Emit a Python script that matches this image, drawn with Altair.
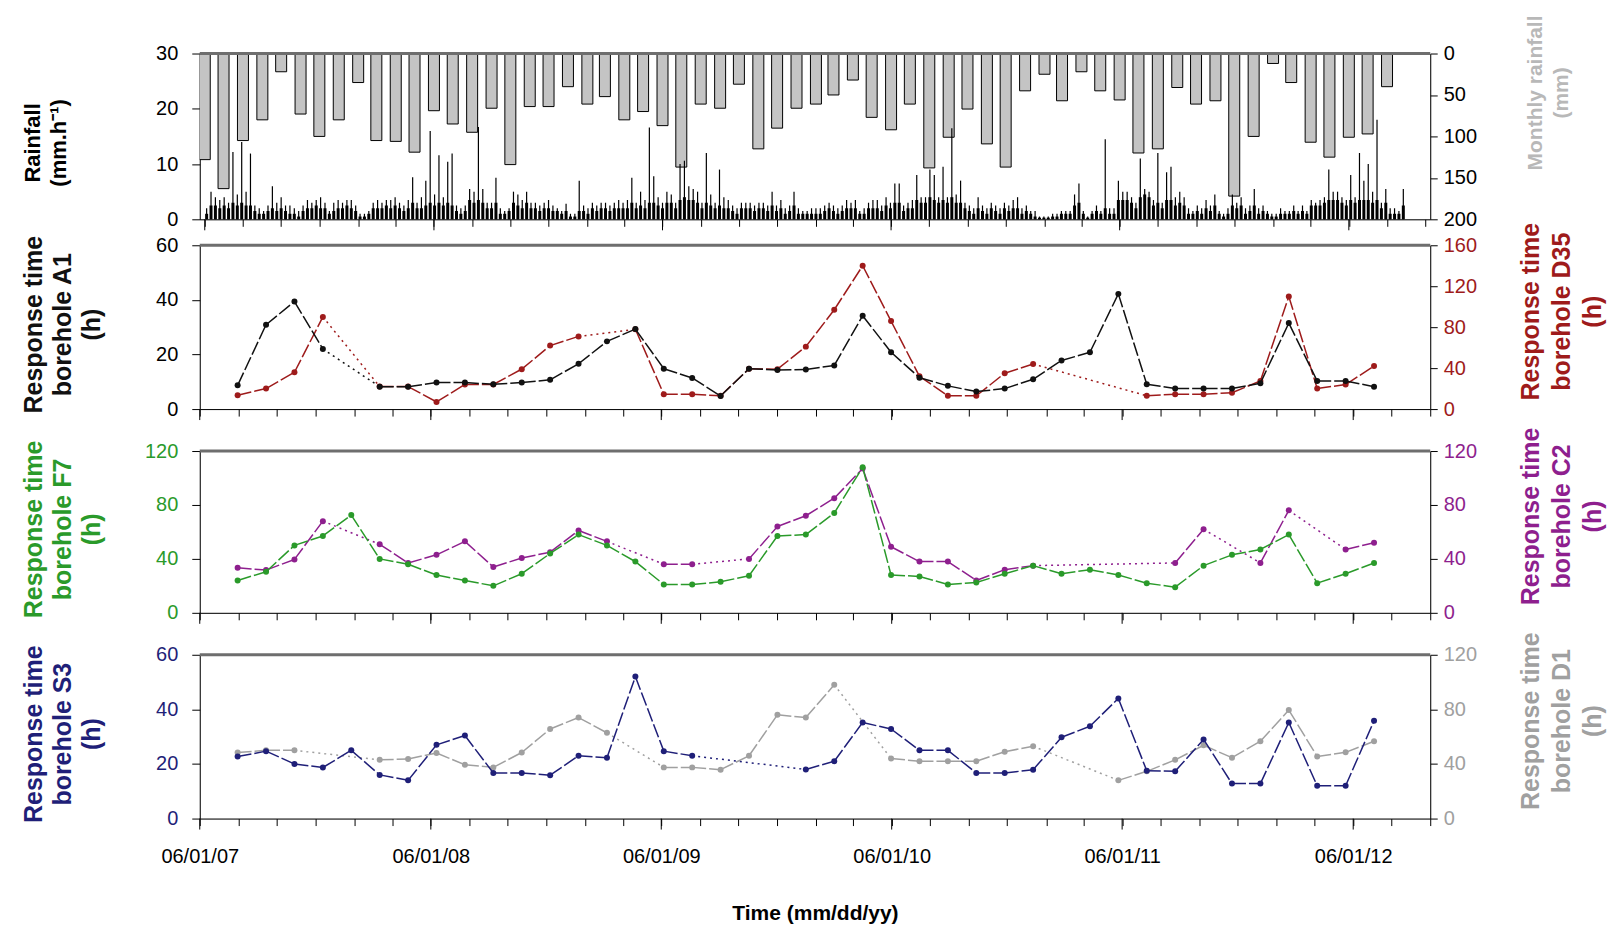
import altair as alt
import numpy as np
import pandas as pd

FONT = "Liberation Sans"
W = 1232
H1, H2, H3, H4 = 166, 164, 162, 164

# ---------------- x axis ticks (every two months; long ticks on 06/01 each year) ----------------
tick_months = ["2007-06", "2007-08", "2007-10", "2007-12", "2008-02", "2008-04", "2008-06",
               "2008-08", "2008-10", "2008-12", "2009-02", "2009-04", "2009-06", "2009-08",
               "2009-10", "2009-12", "2010-02", "2010-04", "2010-06", "2010-08", "2010-10",
               "2010-12", "2011-02", "2011-04", "2011-06", "2011-08", "2011-10", "2011-12",
               "2012-02", "2012-04", "2012-06", "2012-08", "2012-10"]
year_ticks = ["2007-06-01", "2008-06-01", "2009-06-01", "2010-06-01", "2011-06-01", "2012-06-01"]

# ---------------- monthly rainfall (mm), one bar per month from June 2007 ----------------
monthly_rain = [128, 163, 105, 80, 22, 73, 100, 80, 35, 105,
                106, 119, 69, 85, 95, 66, 134, 64, 64, 40,
                61, 52, 80, 70, 87, 137, 61, 66, 37, 115,
                90, 66, 61, 50, 32, 77, 92, 61, 138, 101,
                67, 109, 137, 45, 25, 57, 22, 45, 56, 120,
                115, 41, 61, 57, 172, 100, 12, 35, 107, 125,
                101, 97, 40]

# ---------------- hourly rainfall (mm/h): weekly peak and typical level from June 2007 ----------------
hourly_peak = [2, 5, 4, 3.5, 4, 3, 12.2, 4.5, 14, 5,
               11.9, 2.5, 2, 1.5, 2.5, 6, 3, 4, 2.5, 2.5,
               2, 1.5, 2.5, 3.5, 3, 3.5, 4, 3, 1.5, 3,
               3.5, 3, 3.5, 3.5, 2.5, 1, 1, 1.5, 3, 3.5,
               3, 3.5, 3.5, 4, 3, 2.5, 3.5, 7.6, 3, 4,
               7, 16, 4.5, 11.6, 4, 10.4, 11.9, 2.5, 2, 2.5,
               5.5, 5, 16.7, 5.5, 3, 3, 7.5, 2, 1.5, 2,
               5, 4.5, 3.5, 5, 3, 3, 2.5, 3, 3.5, 2.5,
               2, 1.5, 2.8, 1, 1, 7, 2.5, 2, 3, 2.5,
               3, 3, 2.5, 3, 3.5, 3, 3.5, 7.5, 3, 5,
               3.5, 16.6, 7.8, 4, 3, 5, 4.5, 3, 10, 10.6,
               6, 5.5, 5, 3, 12, 4.5, 3, 9, 4, 3.5,
               2.5, 2, 3, 3, 3, 2.5, 3, 3, 2.5, 5,
               2.5, 3.5, 2, 2.5, 5, 2, 1.5, 1.5, 2, 2,
               2, 2.5, 3, 2.5, 2, 2.5, 3.5, 3, 3.5, 1.5,
               2, 3, 3.5, 3.5, 2.5, 4, 3, 6.5, 6.5, 2.5,
               3, 3.5, 8, 4, 4, 9, 8, 4, 9.5, 4,
               16.5, 4.5, 7, 3, 2.5, 2, 4, 2.5, 2, 3,
               2.5, 2, 3, 2.5, 3.5, 4, 2, 2.5, 1.5, 1.5,
               0.5, 0.5, 0.5, 1, 1, 1.5, 1.5, 1.5, 4.5, 6.5,
               1.5, 0.5, 1.5, 2.5, 1.5, 14.5, 2, 2, 7, 5,
               5, 4, 3, 11, 5.5, 5, 3.5, 12, 3, 8.5,
               9.5, 4, 5, 4, 2, 1.5, 2.5, 2, 3.5, 2.5,
               4.5, 1.5, 1, 2, 4.5, 3, 4, 2, 2.5, 5.5,
               2, 2.5, 1.5, 1, 1, 2, 1.5, 1.5, 2.5, 1.5,
               2.5, 1.5, 3.5, 3, 3.5, 4, 9, 5, 5, 4,
               3.5, 8, 4, 12, 7, 10, 5, 18, 3, 5.5,
               2, 2, 1.5, 5.5, 0]

hourly_base = [1, 2.5, 2.5, 2, 2.5, 2, 3, 2.5, 3, 2.5,
               2.5, 1.5, 1, 1, 1.5, 2, 1.5, 2, 1.5, 1,
               1, 0.5, 1.5, 2, 2, 2.5, 2, 2, 1, 1.5,
               2, 2, 2.5, 2, 1.5, 0.5, 0.5, 1, 2, 2,
               2, 2.5, 2, 2.5, 2, 1.5, 2, 3, 2, 2,
               2.5, 3, 2.5, 3, 2.5, 3, 2.5, 1.5, 1, 1.5,
               3.5, 3, 3.5, 3, 2, 2, 3, 1, 1, 1.5,
               3, 2.5, 2, 3, 2, 2, 1.5, 2, 2, 1.5,
               1.5, 1, 1.5, 0.5, 0.5, 1.5, 1.5, 1, 2, 1.5,
               2, 2, 1.5, 2, 2, 2, 2, 3, 2, 2.5,
               2, 3, 3, 2.5, 2, 3, 3, 2, 3.5, 4,
               3.5, 3.5, 3, 2, 3, 2.5, 2, 2.5, 2, 2,
               1.5, 1, 2, 2, 2, 1.5, 2, 2, 1.5, 2.5,
               1.5, 2, 1, 1.5, 2.5, 1, 1, 1, 1, 1,
               1, 1.5, 2, 1.5, 1, 1.5, 2, 2, 2, 1,
               1, 2, 2, 2, 1.5, 2.5, 2, 3, 3, 1.5,
               2, 2, 3.5, 3, 3, 4, 3.5, 3, 3.5, 3,
               4, 3, 3, 2, 1.5, 1, 2, 1.5, 1, 2,
               1.5, 1, 2, 1.5, 2, 2, 1, 1.5, 1, 0.5,
               0.3, 0.3, 0.3, 0.5, 0.5, 1, 1, 1, 2.5, 3,
               1, 0.3, 1, 1.5, 1, 2, 1, 1, 3.5, 3.5,
               3.5, 3, 2, 4, 4.5, 4, 2.5, 3, 2, 3.5,
               3.5, 2.5, 3, 2.5, 1, 1, 1.5, 1, 2, 1.5,
               2.5, 1, 0.5, 1, 2.5, 2, 2.5, 1, 1.5, 2.5,
               1, 1.5, 1, 0.5, 0.5, 1, 1, 1, 1.5, 1,
               1.5, 1, 2.5, 2.5, 2.5, 3, 3.5, 3.5, 3.5, 3,
               2.5, 3.5, 3, 3.5, 3.5, 3.5, 3, 3.5, 2, 3,
               1, 1, 1, 2.5, 0]

# ---------------- response-time sampling dates ----------------
sample_dates = ["2007-07-31", "2007-09-14", "2007-10-29", "2007-12-13", "2008-01-27",
                "2008-03-12", "2008-04-26", "2008-06-10", "2008-07-25", "2008-09-08",
                "2008-10-23", "2008-12-07", "2009-01-21", "2009-03-07", "2009-04-21",
                "2009-06-05", "2009-07-20", "2009-09-03", "2009-10-18", "2009-12-02",
                "2010-01-16", "2010-03-02", "2010-04-16", "2010-05-31", "2010-07-15",
                "2010-08-29", "2010-10-13", "2010-11-27", "2011-01-11", "2011-02-25",
                "2011-04-11", "2011-05-26", "2011-07-10", "2011-08-24", "2011-10-08",
                "2011-11-22", "2012-01-06", "2012-02-20", "2012-04-05", "2012-05-20",
                "2012-07-04"]

# response times (h); None = no value (gap bridged by a dotted line)
rt_A1 = [8.7, 30.9, 39.4, 22, None, 8.2, 8.2, 9.7, 9.7, 9.1,
         9.7, 10.7, 16.6, 24.8, 29.3, 14.8, 11.4, 4.8, 14.8, 14.3,
         14.5, 16, 34.2, 20.8, 11.5, 8.5, 6.4, 7.5, 10.9, 17.8,
         20.8, 42.2, 9.1, 7.5, 7.5, 7.5, 9.5, 31.5, 10.3, 10.3, 8.2]
rt_D35 = [13.6, 20, 36, 90, None, 22, 22, 7, 24, 24,
          39, 62, 71, None, 78, 14.5, 14.5, 13, 39.4, 39,
          61, 97, 140, 86, 32, 13, 13, 35, 44, None,
          None, None, 13, 14.5, 14.5, 16, 27.5, 110, 20, 24, 42]
rt_F7 = [24, 30.5, 50, 57, 72.5, 40, 36, 28, 24, 20,
         29, 44, 58, 50, 38, 21, 21, 23, 27.5, 57,
         58, 74, 108, 28, 27, 21, 22.5, 29, 35, 29,
         32, 28, 22, 19, 35, 43, 47, 58, 22, 29, 37]
rt_C2 = [33.4, 31.7, 39.6, 68, None, 50.8, 37, 43, 53, 34,
         40.6, 45, 61, 53, None, 36, 36, None, 40, 64,
         72, 85, 107, 49, 38, 38, 24, 32, 35, None,
         None, None, None, 37, 62, None, 37, 76, None, 47, 52]
rt_S3 = [22.7, 24.7, 20, 18.7, 25, 16, 14, 27, 30.4, 16.7,
         16.7, 15.9, 23, 22.3, 52, 24.7, 23, None, None, None,
         18, 21, 35.2, 32.8, 25, 25, 16.7, 16.7, 17.9, 29.8,
         33.8, 44, 17.5, 17.3, 29, 12.8, 12.8, 35.2, 12, 12, 35.8]
rt_D1 = [48.4, 50, 50, None, None, 43, 43.7, 48, 39.4, 37.5,
         48.4, 65.6, 74, 62.8, None, 37.5, 37.5, 35.8, 46, 76,
         74, 98, None, 44, 42, 42, 42, 49, 53, None,
         None, 28, 34.6, 43, 53.7, 44.6, 56.6, 79.5, 45.4, 48.5, 56.6]

# ---------------- colours ----------------
C_BLACK = "#111111"
C_RED = "#9e1b1b"
C_GREEN = "#2a9a2a"
C_PURPLE = "#8e1f8e"
C_NAVY = "#1f1f78"
C_GRAY = "#a0a0a0"
C_LIGHTGRAY = "#b8b8b8"

# ---------------- helpers ----------------
def dt(s):
    return alt.DateTime(year=int(s[:4]), month=int(s[5:7]), date=1, utc=True)

tick_vals = [dt(s) for s in tick_months]
xscale = alt.Scale(type="utc", domain=[dt("2007-06"), dt("2012-10")], nice=False)
year_df = pd.DataFrame({"date": year_ticks})


def xaxis(labels):
    kw = dict(values=tick_vals, grid=False, domainColor="black", tickColor="black",
              tickSize=7, domainWidth=1, tickWidth=1, labelFlush=False, labelOverlap=False)
    if labels:
        return alt.Axis(labels=True,
                        labelExpr="utcmonth(datum.value) == 5 ? utcFormat(datum.value, '%m/%d/%y') : ''",
                        labelFont=FONT, labelFontSize=20, labelColor="black", labelPadding=21,
                        title="Time (mm/dd/yy)", titleFont=FONT, titleFontSize=21,
                        titleFontWeight="bold", titleColor="black",
                        titleX=W / 2, titleY=95, titleBaseline="middle", titleAlign="center",
                        **kw)
    return alt.Axis(labels=False, title=None, **kw)


def yaxis(orient, values, title, title_color, label_color, tx, ty, lh, fs):
    # tx = position of the first title line (further lines stack outward)
    left = orient == "left"
    return alt.Axis(orient=orient, values=values, title=title, grid=False,
                    domainColor="black", tickColor="black", domainWidth=1, tickWidth=1,
                    tickSize=8 if left else 7, labelPadding=14 if left else 6,
                    labelFont=FONT, labelFontSize=20, labelColor=label_color,
                    labelFlush=False, labelOverlap=False,
                    titleFont=FONT, titleFontSize=fs, titleFontWeight="bold",
                    titleColor=title_color, titleAngle=270, titleAlign="center",
                    titleBaseline="middle", titleX=tx, titleY=ty, titleLineHeight=lh)


def series(values, color, axis, scale, xax):
    idx = [i for i, v in enumerate(values) if v is not None]
    rows = []
    for s, (a, b) in enumerate(zip(idx[:-1], idx[1:])):
        style = "main" if b == a + 1 else "gap"
        rows.append(dict(date=sample_dates[a], v=values[a], seg=s, style=style))
        rows.append(dict(date=sample_dates[b], v=values[b], seg=s, style=style))
    seg_df = pd.DataFrame(rows)
    pts_df = pd.DataFrame({"date": [sample_dates[i] for i in idx],
                           "v": [values[i] for i in idx]})
    line = alt.Chart(seg_df).mark_line(color=color, strokeWidth=1.5).encode(
        x=alt.X("date:T", scale=xscale, axis=xax),
        y=alt.Y("v:Q", scale=scale, axis=axis),
        detail="seg:N",
        strokeDash=alt.StrokeDash("style:N",
                                  scale=alt.Scale(domain=["main", "gap"], range=[[14, 3], [2, 4]]),
                                  legend=None),
    )
    pts = alt.Chart(pts_df).mark_circle(color=color, size=36, opacity=1).encode(
        x=alt.X("date:T", scale=xscale, axis=xax),
        y=alt.Y("v:Q", scale=scale, axis=axis),
    )
    return [line, pts]


def top_line():
    return alt.Chart(pd.DataFrame({"a": [0]})).mark_rule(color="#6e6e6e", strokeWidth=3).encode(
        x=alt.value(0), x2=alt.value(W), y=alt.value(0))


def year_marks(H, xax):
    # longer tick marks below the axis at each 06/01
    return alt.Chart(year_df).mark_rule(color="black", strokeWidth=1).encode(
        x=alt.X("date:T", scale=xscale, axis=xax),
        y=alt.value(H), y2=alt.value(H + 11))


# ---------------- panel 1: rainfall ----------------
n_w = len(hourly_peak)
week_dates = (pd.Timestamp("2007-06-01") + pd.to_timedelta(7 * np.arange(n_w) + 3, unit="D")).strftime("%Y-%m-%d")
hourly_df = pd.DataFrame({"date": week_dates, "peak": hourly_peak, "base": hourly_base})
month_dates = pd.date_range("2007-06-01", periods=len(monthly_rain), freq="MS").strftime("%Y-%m-%d")
monthly_df = pd.DataFrame({"date": month_dates, "mm": monthly_rain})

x1 = xaxis(False)
rain_scale = alt.Scale(domain=[0, 30], nice=False, zero=True)
rain_axis = yaxis("left", [0, 10, 20, 30], ["Rainfall", "(mm.h⁻¹)"], "black", "black",
                  -167, H1 / 2 + 6, 26, 22)
month_axis = yaxis("right", [0, 50, 100, 150, 200], ["Monthly rainfall", "(mm)"],
                   C_LIGHTGRAY, "black", 105, H1 / 2 - 44, 26, 21)
bars = alt.Chart(monthly_df).mark_bar(fill="#c4c4c4", stroke="black", strokeWidth=1, size=11, clip=True).encode(
    x=alt.X("date:T", scale=xscale, axis=x1),
    y=alt.Y("mm:Q", scale=alt.Scale(domain=[0, 200], reverse=True, nice=False), axis=month_axis),
)
spikes = alt.Chart(hourly_df).mark_rule(color="black", strokeWidth=1.2).encode(
    x=alt.X("date:T", scale=xscale, axis=x1),
    y=alt.Y("peak:Q", scale=rain_scale, axis=rain_axis),
    y2=alt.datum(0),
)
base = alt.Chart(hourly_df).mark_rule(color="black", strokeWidth=3).encode(
    x=alt.X("date:T", scale=xscale, axis=x1),
    y=alt.Y("base:Q", scale=rain_scale, axis=rain_axis),
    y2=alt.datum(0),
)
p1 = alt.layer(bars, alt.layer(spikes, base), top_line(), year_marks(H1, x1)).resolve_scale(
    y="independent").properties(width=W, height=H1)


def rt_panel(left_vals, left_color, left_dom, left_ticks, left_name, left_lab_color,
             right_vals, right_color, right_dom, right_ticks, right_name, H, labels):
    ls = alt.Scale(domain=left_dom, nice=False)
    rs = alt.Scale(domain=right_dom, nice=False)
    xa = xaxis(labels)
    la = yaxis("left", left_ticks, ["Response time", left_name, "(h)"], left_color,
               left_lab_color, -166, H / 2 - 3, 29, 25)
    ra = yaxis("right", right_ticks, ["Response time", right_name, "(h)"], right_color,
               right_color, 100, H / 2 - 16, 31, 25)
    left = alt.layer(*series(left_vals, left_color, la, ls, xa))
    right = alt.layer(*series(right_vals, right_color, ra, rs, xa))
    return alt.layer(right, left, top_line(), year_marks(H, xa)).resolve_scale(
        y="independent").properties(width=W, height=H)


p2 = rt_panel(rt_A1, C_BLACK, [0, 60], [0, 20, 40, 60], "borehole A1", "black",
              rt_D35, C_RED, [0, 160], [0, 40, 80, 120, 160], "borehole D35", H2, False)
p3 = rt_panel(rt_F7, C_GREEN, [0, 120], [0, 40, 80, 120], "borehole F7", C_GREEN,
              rt_C2, C_PURPLE, [0, 120], [0, 40, 80, 120], "borehole C2", H3, False)
p4 = rt_panel(rt_S3, C_NAVY, [0, 60], [0, 20, 40, 60], "borehole S3", C_NAVY,
              rt_D1, C_GRAY, [0, 120], [0, 40, 80, 120], "borehole D1", H4, True)

inner = alt.vconcat(p2, p3, p4, spacing=42, bounds="flush")
chart = alt.vconcat(p1, inner, spacing=26, bounds="flush").properties(
    padding={"left": 13, "top": 5, "right": 5, "bottom": 5}
).configure_view(stroke=None).configure(font=FONT, background="white")

chart.save("out.html", embed_options={"renderer": "svg", "actions": False})
